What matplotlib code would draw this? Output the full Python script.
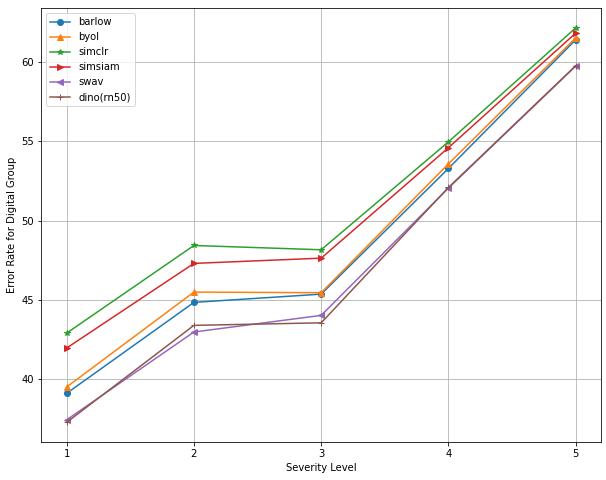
import matplotlib
matplotlib.use('Agg')
import matplotlib.pyplot as plt

severity = [1, 2, 3, 4, 5]

# error rates per method
barlow = [39.1, 44.84, 45.36, 53.29, 61.41]
byol = [39.5, 45.49, 45.45, 53.58, 61.53]
simclr = [42.9, 48.43, 48.16, 54.97, 62.16]
simsiam = [41.96, 47.3, 47.63, 54.6, 61.83]
swav = [37.43, 42.97, 44.02, 52.05, 59.75]
dino = [37.27, 43.39, 43.55, 52.09, 59.77]

methods = {'barlow': (barlow, 'o'),
           'byol': (byol, '^'),
           'simclr': (simclr, '*'),
           'simsiam': (simsiam, '>'),
           'swav': (swav, '<'),
           'dino(rn50)': (dino, '+')
           }

fig, ax = plt.subplots(figsize=(606 / 72, 480 / 72), dpi=72)
fig.subplots_adjust(left=0.068, right=0.992, top=0.983, bottom=0.079)

for name in methods:
    vals, mk = methods[name]
    ax.plot(severity, vals, marker=mk, label=name)

ax.set_xticks(severity)
ax.set_xlabel('Severity Level')
ax.set_ylabel('Error Rate for Digital Group')
ax.grid(True)
ax.legend(loc='upper left')

fig.savefig('out.png')
